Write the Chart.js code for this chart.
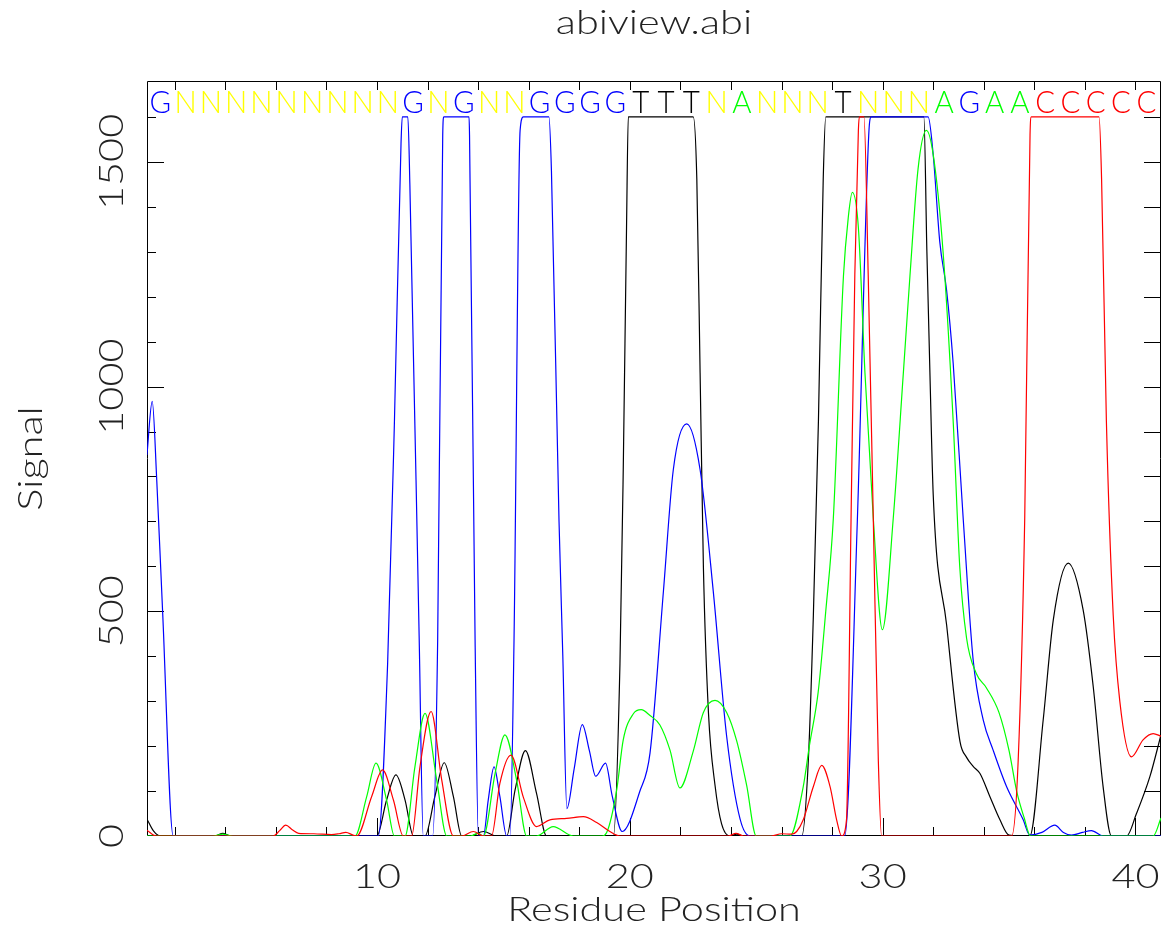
<!DOCTYPE html>
<html>
<head>
<meta charset="utf-8">
<script src="https://cdn.jsdelivr.net/npm/chart.js@4/dist/chart.umd.min.js"></script>
<style>
html,body{margin:0;padding:0;background:#fff;}
#wrap{width:1165px;height:929px;}
</style>
</head>
<body>
<div id="wrap"><canvas id="c" width="1165" height="929"></canvas></div>
<script>
// ---- data ----
const bases = "GNNNNNNNNNGNGNNGGGGTTTNANNNTNNNAGAACCCCC".split("");
const xTicksMajor = [10, 20, 30, 40];
const yTicksMajor = [0, 500, 1000, 1500];

// A channel (green)
const aX = [0.9,3.5,3.9,4.3,9.13,9.59,9.96,10.38,10.69,11.11,11.5,11.9,12.36,12.76,13.7,14.0,14.21,14.67,15.06,15.52,15.92,16.31,16.97,17.76,18.9,19.08,19.48,19.74,20.14,20.45,20.8,21.19,21.59,21.98,22.51,22.91,23.37,23.83,24.23,24.62,25.0,26.33,26.86,27.1,27.45,27.75,28.05,28.45,28.64,28.8,29.04,29.3,29.63,29.99,30.42,30.82,31.08,31.4,31.73,32.0,32.39,32.79,33.05,33.32,33.7,34.1,34.6,35.0,35.3,35.6,35.85,40.7,41.01];
const aY = [0,0,4,0,0,87,162,80,0,0,154,273,125,0,0,6,0,139,225,125,0,0,21,0,0,7,102,214,272,281,268,247,191,107,189,275,302,275,211,113,0,0,110,200,320,500,707,1246,1376,1432,1354,1031,707,459,707,1031,1246,1484,1570,1516,1300,923,599,440,362,330,275,190,100,40,0,0,40];

// C channel (red)
const cX = [0.9,1.26,5.9,6.15,6.39,6.65,6.9,7.5,8.2,8.5,8.77,9.05,9.2,9.79,10.22,10.65,11.04,11.37,11.7,12.14,12.56,13.02,13.35,13.81,14.21,14.53,14.86,15.3,15.79,16.31,16.84,17.5,18.16,18.69,19.21,19.61,23.9,24.2,24.5,25.6,26.0,26.4,26.6,26.86,27.26,27.59,27.92,28.18,28.38,28.57,28.75,28.9,29.04,29.08,29.26,29.43,29.63,29.83,29.96,35.1,35.36,35.62,35.83,35.88,38.56,38.66,38.85,39.12,39.38,39.84,40.3,40.7,41.01];
const cY = [13,0,0,12,24,14,6,5,3,5,8,2,0,88,147,80,0,0,154,277,125,0,0,10,0,0,117,180,86,21,36,39,43,30,10,0,0,6,0,0,5,4,10,36,110,157,110,36,0,36,703,1250,1570,1600,1600,1246,707,167,0,0,167,707,1560,1600,1600,1462,923,491,300,176,214,228,222];

// G channel (blue)
const gX = [0.9,1.11,1.29,1.52,1.94,10.05,10.42,10.69,10.95,11.0,11.22,11.3,11.67,11.83,12.2,12.4,12.6,12.64,13.64,13.66,13.88,14.01,14.21,14.4,14.63,14.86,15.13,15.26,15.42,15.66,15.79,16.8,16.9,17.2,17.35,17.51,17.8,18.12,18.4,18.65,19.04,19.3,19.7,20.4,20.8,21.33,21.72,22.25,22.78,23.3,23.83,24.36,24.75,28.5,29.0,29.45,29.55,31.8,32.0,32.26,32.53,32.79,33.19,33.58,33.98,34.37,34.9,35.56,35.82,36.3,36.81,37.15,37.47,37.9,38.26,38.72,41.01];
const gY = [848,967,790,500,0,0,383,923,1540,1600,1600,1450,436,0,0,436,1560,1600,1600,1560,436,0,0,80,154,88,0,0,436,1570,1600,1600,1480,700,400,61,150,248,190,133,162,90,10,100,185,545,815,917,815,545,222,38,0,0,703,1560,1600,1600,1516,1322,1214,1052,703,392,258,191,110,36,2,8,24,8,2,8,12,0,0];

// T channel (black)
const tX = [0.9,1.15,1.42,3.6,3.9,4.2,9.99,10.38,10.75,11.11,11.44,11.9,12.29,12.66,13.02,13.35,13.68,14.21,14.73,15.13,15.46,15.87,16.31,16.71,19.35,19.61,19.74,19.87,19.94,22.51,22.65,22.78,22.91,23.11,23.37,23.63,23.96,24.23,24.5,26.8,27.06,27.26,27.46,27.65,27.75,31.63,31.75,31.87,32.0,32.53,33.06,33.32,33.58,33.85,34.24,34.64,35.0,35.82,36.35,36.75,37.34,37.93,38.33,38.72,39.05,39.65,40.04,40.57,41.01];
const tY = [38,12,0,0,6,0,0,80,136,80,0,0,88,163,88,0,0,10,0,0,102,190,95,0,0,383,815,1354,1600,1600,1462,1031,599,275,113,27,0,4,0,0,167,491,923,1462,1600,1600,1300,1031,760,470,210,175,155,139,88,36,2,0,258,481,607,503,332,110,0,0,50,132,225];

// ---- build chart ----
const pts = (xs, ys) => xs.map((x, i) => ({x: x, y: ys[i]}));
const baseColor = {G: '#0000ff', A: '#00ff00', T: '#000000', C: '#ff0000', N: '#ffff00'};
const FONT = "'DejaVu Sans ExtraLight', 'Lato Light', 'DejaVu Sans', sans-serif";
const TXT = '#222';
const STRETCH = 1.22;

function wideText(ctx, txt, x, y, rot) {
  ctx.save();
  ctx.translate(x, y);
  if (rot) ctx.rotate(rot);
  ctx.scale(STRETCH, 1);
  ctx.fillText(txt, 0, 0);
  ctx.restore();
}

const framePlugin = {
  id: 'frame',
  beforeDatasetsDraw(chart) {
    const ctx = chart.ctx, ca = chart.chartArea;
    const xs = chart.scales.x, ys = chart.scales.y;
    ctx.save();
    ctx.strokeStyle = '#000';
    ctx.lineWidth = 1;
    ctx.beginPath();
    ctx.rect(ca.left + 0.5, ca.top + 0.5, ca.right - ca.left - 1, ca.bottom - ca.top - 1);
    ctx.stroke();
    ctx.beginPath();
    for (let v = 100; v <= 1600; v += 100) {
      const y = Math.round(ys.getPixelForValue(v)) + 0.5;
      const len = (v % 500 === 0) ? 17 : 9;
      ctx.moveTo(ca.left, y); ctx.lineTo(ca.left + len, y);
      ctx.moveTo(ca.right, y); ctx.lineTo(ca.right - 17, y);
    }
    for (let v = 2; v <= 40; v += 2) {
      const x = Math.round(xs.getPixelForValue(v)) + 0.5;
      const len = (v % 10 === 0) ? 18 : 9;
      ctx.moveTo(x, ca.bottom); ctx.lineTo(x, ca.bottom - len);
      ctx.moveTo(x, ca.top); ctx.lineTo(x, ca.top + 9);
    }
    ctx.stroke();
    ctx.restore();
  },
  afterDatasetsDraw(chart) {
    const ctx = chart.ctx, ca = chart.chartArea;
    const xs = chart.scales.x, ys = chart.scales.y;
    ctx.save();
    ctx.fillStyle = TXT;
    ctx.textAlign = 'center';
    ctx.textBaseline = 'middle';
    ctx.font = '34px ' + FONT;
    xTicksMajor.forEach(v => wideText(ctx, String(v), xs.getPixelForValue(v), 877, 0));
    yTicksMajor.forEach(v => wideText(ctx, String(v), 112, ys.getPixelForValue(v), -Math.PI / 2));
    const cx = (ca.left + ca.right) / 2;
    wideText(ctx, 'abiview.abi', cx, 23, 0);
    wideText(ctx, 'Residue Position', cx, 910, 0);
    wideText(ctx, 'Signal', 31, (ca.top + ca.bottom) / 2, -Math.PI / 2);
    // base calls
    ctx.font = '31px ' + FONT;
    bases.forEach((b, i) => {
      ctx.save();
      ctx.fillStyle = baseColor[b];
      ctx.translate(xs.getPixelForValue(i + 1.43), 103);
      ctx.scale(0.95, 1);
      ctx.fillText(b, 0, 0);
      ctx.restore();
    });
    ctx.restore();
  }
};

const mk = (label, xs, ys, color) => ({
  label: label,
  data: pts(xs, ys),
  borderColor: color,
  borderWidth: 1.2,
  pointRadius: 0,
  fill: false,
  cubicInterpolationMode: 'monotone'
});

new Chart(document.getElementById('c'), {
  type: 'line',
  data: {
    datasets: [
      mk('C', cX, cY, '#ff0000'),
      mk('A', aX, aY, '#00ff00'),
      mk('G', gX, gY, '#0000ff'),
      mk('T', tX, tY, '#000000')
    ]
  },
  options: {
    responsive: false,
    animation: false,
    devicePixelRatio: 1,
    layout: {padding: {left: 147, right: 4, top: 81, bottom: 93}},
    plugins: {legend: {display: false}, tooltip: {enabled: false}, title: {display: false}},
    scales: {
      x: {type: 'linear', min: 0.903, max: 41.01, display: false},
      y: {type: 'linear', min: 0, max: 1680, display: false}
    }
  },
  plugins: [framePlugin]
});
</script>
</body>
</html>
